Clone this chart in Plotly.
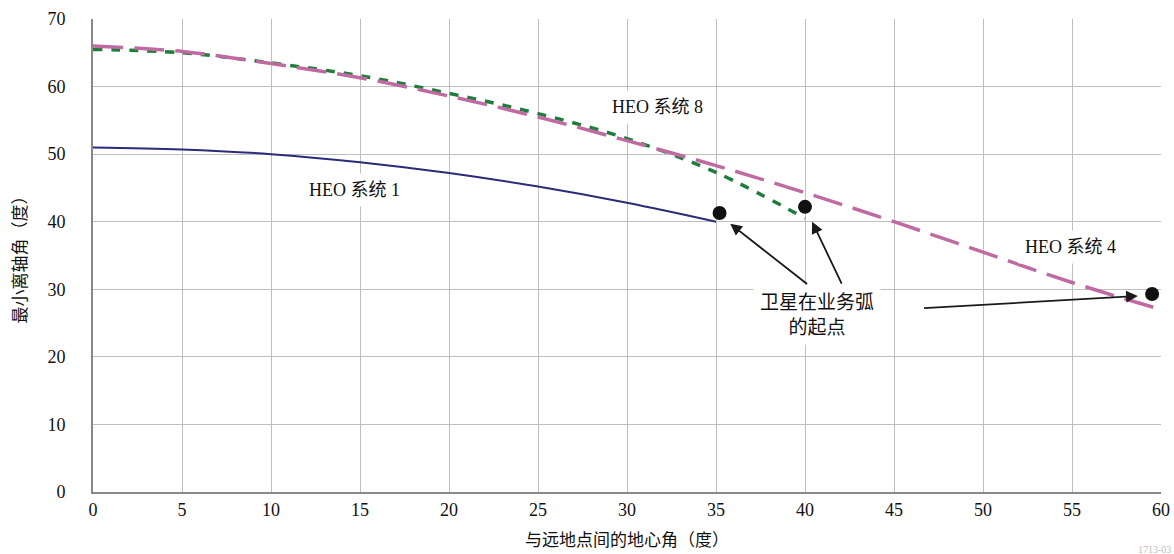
import plotly.graph_objects as go

x_heo1 = [0, 5, 10, 15, 20, 25, 30, 35]
y_heo1 = [51.0, 50.7, 50.0, 48.8, 47.2, 45.2, 42.8, 40.0]

x_heo8 = [0, 5, 10, 15, 20, 25, 30, 35, 40]
y_heo8 = [65.5, 65.0, 63.5, 61.6, 59.0, 56.0, 52.3, 47.3, 40.5]

x_heo4 = [0, 5, 10, 15, 20, 25, 30, 35, 40, 45, 50, 55, 60]
y_heo4 = [66.0, 65.2, 63.4, 61.3, 58.6, 55.5, 52.0, 48.3, 44.3, 40.0, 35.5, 31.0, 27.0]

start_x = [35.2, 40.0, 59.5]
start_y = [41.3, 42.2, 29.3]

x_ticks = [0, 5, 10, 15, 20, 25, 30, 35, 40, 45, 50, 55, 60]
y_ticks = [0, 10, 20, 30, 40, 50, 60, 70]

serif = "Liberation Serif, Times New Roman, Noto Sans CJK SC, serif"

fig = go.Figure()
fig.add_trace(go.Scatter(x=x_heo1, y=y_heo1, mode="lines", line=dict(color="#2b2b78", width=2), line_shape="spline", showlegend=False))
fig.add_trace(go.Scatter(x=x_heo8, y=y_heo8, mode="lines", line=dict(color="#1f7d3c", width=3.5, dash="9px,9px"), line_shape="spline", showlegend=False))
fig.add_trace(go.Scatter(x=x_heo4, y=y_heo4, mode="lines", line=dict(color="#c06aa2", width=3.5, dash="30px,11px"), line_shape="spline", showlegend=False))
fig.add_trace(go.Scatter(x=start_x, y=start_y, mode="markers", marker=dict(color="#111111", size=14), showlegend=False))

annots = []
for (tx, ty), (hx, hy) in [((40.2, 30.6), (35.8, 39.7)), ((42.1, 30.6), (40.4, 40.0)), ((46.6, 27.2), (58.7, 29.0))]:
    annots.append(dict(x=hx, y=hy, ax=tx, ay=ty, xref="x", yref="y", axref="x", ayref="y", text="",
                       showarrow=True, arrowhead=2, arrowsize=1.3, arrowwidth=1.8, arrowcolor="#1a1a1a"))

labels = [
    ("HEO 系统 8", 31.7, 57.0, 18),
    ("HEO 系统 1", 14.7, 44.7, 18),
    ("HEO 系统 4", 54.9, 36.3, 18),
    ("卫星在业务弧<br>的起点", 40.7, 26.2, 19),
]
for txt, lx, ly, fs in labels:
    annots.append(dict(x=lx, y=ly, xref="x", yref="y", text=txt, showarrow=False,
                       font=dict(family=serif, size=fs, color="#111111"), bgcolor="white",
                       borderpad=6))

annots.append(dict(x=1.0, y=0, xref="paper", yref="paper", xshift=12, yshift=-50, xanchor="right", yanchor="top",
                   text="1713-03", showarrow=False, font=dict(family=serif, size=10, color="#bbbbbb")))

fig.update_layout(
    width=1174, height=554,
    margin=dict(l=93, r=13, t=19, b=62),
    plot_bgcolor="white", paper_bgcolor="white",
    annotations=annots,
    font=dict(family=serif, size=16, color="#111111"),
)
fig.update_xaxes(range=[0, 60], tickvals=x_ticks, showgrid=True, gridcolor="#bfbfbf", gridwidth=1.3,
                 showline=True, linecolor="#888888", linewidth=2, ticks="", zeroline=False,
                 automargin=False,
                 title=dict(text="与远地点间的地心角（度）", font=dict(size=17), standoff=16),
                 tickfont=dict(size=18), mirror=False)
fig.update_yaxes(range=[0, 70], tickvals=y_ticks, showgrid=True, gridcolor="#bfbfbf", gridwidth=1.3,
                 showline=True, linecolor="#888888", linewidth=2, ticks="", zeroline=False,
                 automargin=False, ticklabelstandoff=22,
                 title=dict(text="最小离轴角（度）", font=dict(size=17), standoff=16),
                 tickfont=dict(size=18))
fig.write_html("out.html", config={"displayModeBar": False},
               post_script="document.body.style.margin='0';document.body.style.padding='0';")
